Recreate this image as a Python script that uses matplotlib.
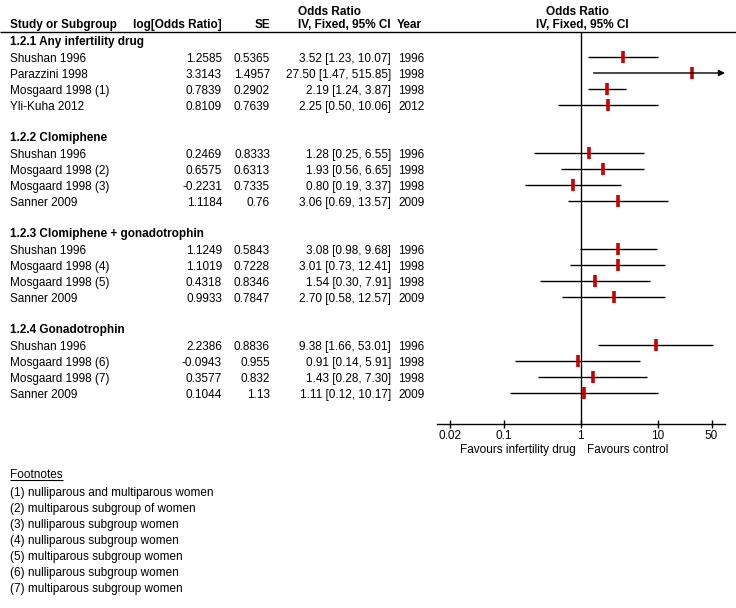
import matplotlib
matplotlib.use('Agg')
import matplotlib.pyplot as plt
import numpy as np

# ---------------- data ----------------
group_titles = ['1.2.1 Any infertility drug', '1.2.2 Clomiphene',
                '1.2.3 Clomiphene + gonadotrophin', '1.2.4 Gonadotrophin']
study_names = ['Shushan 1996', 'Parazzini 1998', 'Mosgaard 1998 (1)', 'Yli-Kuha 2012',
               'Shushan 1996', 'Mosgaard 1998 (2)', 'Mosgaard 1998 (3)', 'Sanner 2009',
               'Shushan 1996', 'Mosgaard 1998 (4)', 'Mosgaard 1998 (5)', 'Sanner 2009',
               'Shushan 1996', 'Mosgaard 1998 (6)', 'Mosgaard 1998 (7)', 'Sanner 2009']
study_group = [0, 0, 0, 0, 1, 1, 1, 1, 2, 2, 2, 2, 3, 3, 3, 3]
log_or = [1.2585, 3.3143, 0.7839, 0.8109, 0.2469, 0.6575, -0.2231, 1.1184,
          1.1249, 1.1019, 0.4318, 0.9933, 2.2386, -0.0943, 0.3577, 0.1044]
se = [0.5365, 1.4957, 0.2902, 0.7639, 0.8333, 0.6313, 0.7335, 0.76,
      0.5843, 0.7228, 0.8346, 0.7847, 0.8836, 0.955, 0.832, 1.13]
odds = [3.52, 27.50, 2.19, 2.25, 1.28, 1.93, 0.80, 3.06,
        3.08, 3.01, 1.54, 2.70, 9.38, 0.91, 1.43, 1.11]
ci_low = [1.23, 1.47, 1.24, 0.50, 0.25, 0.56, 0.19, 0.69,
          0.98, 0.73, 0.30, 0.58, 1.66, 0.14, 0.28, 0.12]
ci_high = [10.07, 515.85, 3.87, 10.06, 6.55, 6.65, 3.37, 13.57,
           9.68, 12.41, 7.91, 12.57, 53.01, 5.91, 7.30, 10.17]
years = [1996, 1998, 1998, 2012, 1996, 1998, 1998, 2009,
         1996, 1998, 1998, 2009, 1996, 1998, 1998, 2009]
axis_ticks = [0.02, 0.1, 1, 10, 50]
axis_ticklabels = ['0.02', '0.1', '1', '10', '50']
footnotes = ['(1) nulliparous and multiparous women',
             '(2) multiparous subgroup of women',
             '(3) nulliparous subgroup women',
             '(4) nulliparous subgroup women',
             '(5) multiparous subgroup women',
             '(6) nulliparous subgroup women',
             '(7) multiparous subgroup women']

# ---------------- layout ----------------
W, H = 736, 608
FONT = 'Liberation Sans'
FS = 8.5
BL = 4.2  # baseline offset below visual centre (px)
plt.rcParams['font.family'] = [FONT, 'DejaVu Sans']

fig = plt.figure(figsize=(W / 100, H / 100), dpi=100)
bg = fig.add_axes([0, 0, 1, 1])
bg.set_xlim(0, W)
bg.set_ylim(H, 0)
bg.axis('off')


def txt(x, y, s, ha='left', bold=False):
    bg.text(x, y + BL, s, fontsize=FS, ha=ha, va='baseline',
            fontweight='bold' if bold else 'normal')


# forest axes: x = 1 at px 580.7, 77 px per decade
x_one, px_dec = 580.7, 77.0
ax_l, ax_r = 437, 725
xmin = 10 ** ((ax_l - x_one) / px_dec)
xmax = 10 ** ((ax_r - x_one) / px_dec)
ax = fig.add_axes([ax_l / W, 0, (ax_r - ax_l) / W, 1])
ax.set_xscale('log')
ax.set_xlim(xmin, xmax)
ax.set_ylim(H, 0)
ax.patch.set_alpha(0)
for s in ['top', 'left', 'right']:
    ax.spines[s].set_visible(False)
axis_y = 424
ax.spines['bottom'].set_position(('data', axis_y))
ax.spines['bottom'].set_linewidth(1)
ax.set_yticks([])
ax.set_xticks(axis_ticks)
ax.set_xticklabels(axis_ticklabels, fontsize=FS)
ax.xaxis.set_minor_locator(matplotlib.ticker.NullLocator())
ax.tick_params(axis='x', direction='inout', length=6, width=1, pad=1)

# headers
txt(10, 24, 'Study or Subgroup', bold=True)
txt(222, 24, 'log[Odds Ratio]', ha='right', bold=True)
txt(270, 24, 'SE', ha='right', bold=True)
txt(298, 11, 'Odds Ratio', bold=True)
txt(391, 24, 'IV, Fixed, 95% CI', ha='right', bold=True)
txt(397, 24, 'Year', bold=True)
txt(578, 11, 'Odds Ratio', ha='center', bold=True)
txt(582, 24, 'IV, Fixed, 95% CI', ha='center', bold=True)
bg.hlines(32, 0, W, color='black', lw=1)

# null line
ax.vlines(1, 32, axis_y, color='black', lw=1)

# groups & rows
row_pos = {}
for g, title in enumerate(group_titles):
    hy = 41 + 96 * g
    txt(10, hy, title, bold=True)
    idx = [i for i, gg in enumerate(study_group) if gg == g]
    for j, i in enumerate(idx):
        row_pos[i] = hy + 17 + 16 * j

for i, name in enumerate(study_names):
    y = row_pos[i]
    txt(10, y, name)
    txt(222, y, str(log_or[i]), ha='right')
    txt(270, y, str(se[i]), ha='right')
    txt(391, y, f'{odds[i]:.2f} [{ci_low[i]:.2f}, {ci_high[i]:.2f}]', ha='right')
    txt(398, y, str(years[i]))
    yl = y - 1
    if ci_high[i] > xmax:
        ax.annotate('', xy=(xmax, yl), xytext=(ci_low[i], yl),
                    arrowprops=dict(arrowstyle='-|>', color='black', lw=1,
                                    mutation_scale=9, shrinkA=0, shrinkB=0))
    else:
        ax.hlines(yl, ci_low[i], ci_high[i], color='black', lw=1)
    ax.plot([odds[i]], [yl], marker='|', markersize=8, markeredgewidth=2.6,
            color='#CC0000', linestyle='none')

# favours labels
txt(576, 449, 'Favours infertility drug', ha='right')
txt(587, 449, 'Favours control')

# footnotes
txt(10, 474, 'Footnotes')
bg.hlines(480, 10, 63, color='black', lw=0.8)
for k, fn in enumerate(footnotes):
    txt(10, 492 + 16 * k, fn)

fig.savefig('out.png', dpi=100, facecolor='white')
